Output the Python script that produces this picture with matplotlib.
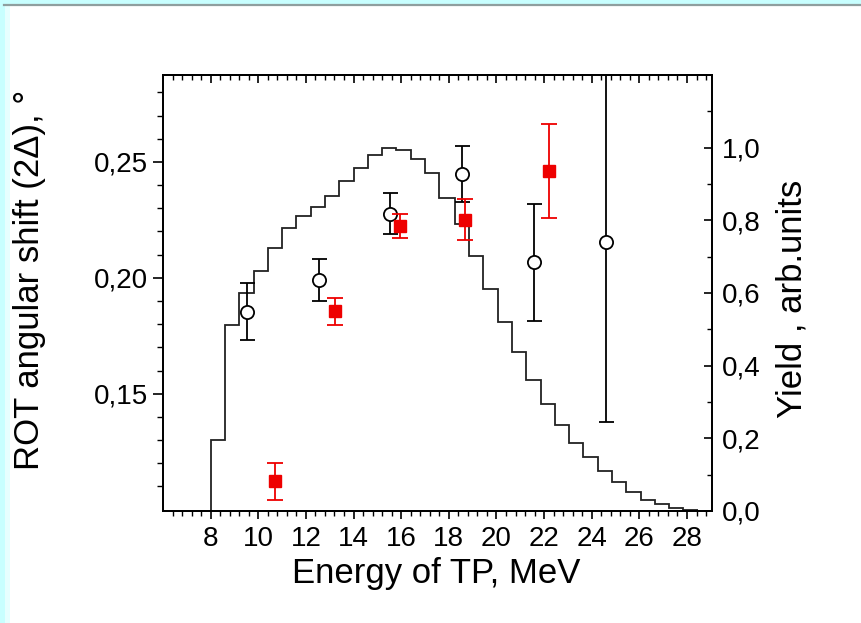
import matplotlib
matplotlib.use('Agg')
import matplotlib.pyplot as plt
from matplotlib.patches import Rectangle
from matplotlib.lines import Line2D
import numpy as np

plt.rcParams['font.family'] = ['Liberation Sans', 'DejaVu Sans']

# ---- data ----
# open circles (left axis)
circ_x = [9.52, 12.53, 15.52, 18.54, 21.58, 24.60]
circ_y = [0.1854, 0.1990, 0.2276, 0.2448, 0.2067, 0.2156]
circ_err = [0.0122, 0.0090, 0.0088, 0.0122, 0.0252, 0.0778]

# red squares (left axis)
sq_x = [10.71, 13.23, 15.97, 18.68, 22.19]
sq_y = [0.1123, 0.1855, 0.2224, 0.2250, 0.2460]
sq_err = [0.0080, 0.0060, 0.0052, 0.0088, 0.0203]

# yield histogram (right axis)
hist_edges = [7.4, 8.0, 8.6, 9.2, 9.8, 10.4, 11.0, 11.6, 12.2, 12.8, 13.4,
              14.0, 14.6, 15.2, 15.8, 16.4, 17.0, 17.6, 18.25, 18.85, 19.45,
              20.05, 20.65, 21.25, 21.85, 22.45, 23.05, 23.65, 24.25, 24.85,
              25.45, 26.05, 26.65, 27.25, 27.85, 28.45]
hist_vals = [0.0, 0.196, 0.513, 0.600, 0.661, 0.725, 0.778, 0.812, 0.837,
             0.867, 0.908, 0.945, 0.980, 1.000, 0.993, 0.968, 0.929, 0.862,
             0.790, 0.702, 0.612, 0.519, 0.438, 0.361, 0.295, 0.238, 0.187,
             0.148, 0.111, 0.079, 0.052, 0.029, 0.018, 0.009, 0.003]

x_major = [8, 10, 12, 14, 16, 18, 20, 22, 24, 26, 28]
x_labels = ['8', '10', '12', '14', '16', '18', '20', '22', '24', '26', '28']
yl_major = [0.15, 0.20, 0.25]
yl_labels = ['0,15', '0,20', '0,25']
yr_major = [0.0, 0.2, 0.4, 0.6, 0.8, 1.0]
yr_labels = ['0,0', '0,2', '0,4', '0,6', '0,8', '1,0']

W, H = 862, 623
fig = plt.figure(figsize=(W / 100, H / 100), dpi=100, facecolor='white')

# decorative frame (cyan strips + gray line)
fig.add_artist(Rectangle((0, 1 - 4 / H), 1, 4 / H, transform=fig.transFigure,
                         color='#c8ffff', lw=0, zorder=0))
fig.add_artist(Rectangle((0, 0), 5 / W, 1, transform=fig.transFigure,
                         color='#c8ffff', lw=0, zorder=0))
fig.add_artist(Rectangle((5 / W, 0), 5 / W, 1 - 6 / H, transform=fig.transFigure,
                         color='#e6ffff', lw=0, zorder=0))
fig.add_artist(Line2D([4 / W, 1], [1 - 5 / H, 1 - 5 / H], transform=fig.transFigure,
                      color='#8f9f9f', lw=1.6, zorder=1))

L, R, T, B = 163, 712, 75, 511
ax = fig.add_axes([L / W, 1 - B / H, (R - L) / W, (B - T) / H])
ax2 = ax.twinx()

# histogram on right axis
ax2.stairs(hist_vals, hist_edges, color='#222222', lw=1.3, baseline=None)
ax2.set_ylim(0, 1.2)

# points on left axis
ax.errorbar(circ_x, circ_y, yerr=circ_err, fmt='o', ms=9.5, mfc='white',
            mec='black', mew=1.3, ecolor='black', elinewidth=1.3,
            capsize=5.4, capthick=1.3, zorder=3)
ax.errorbar(sq_x, sq_y, yerr=sq_err, fmt='s', ms=8.5, mfc='#ee0000',
            mec='#ee0000', ecolor='#ee0000', elinewidth=1.3,
            capsize=5.6, capthick=1.3, zorder=4)

ax.set_zorder(ax2.get_zorder() + 1)
ax.patch.set_visible(False)

ax.set_xlim(6.0, 29.05)
ax.set_ylim(0.0994, 0.2875)

tick_fs = 20
ax.set_xticks(x_major, x_labels)
ax.set_xticks([v for v in np.arange(6.4, 29.0, 0.4) if abs(v / 2 - round(v / 2)) > 1e-6],
              minor=True)
ax.set_yticks(yl_major, yl_labels)
ax.set_yticks([v for v in np.arange(0.11, 0.285, 0.01)
               if min(abs(v - m) for m in yl_major) > 1e-6], minor=True)

ax.tick_params(axis='x', which='major', direction='out', length=6, width=1.2,
               labelsize=tick_fs, pad=5, top=False)
ax.tick_params(axis='x', which='minor', direction='out', length=3.5, width=1.0, top=False)
ax.tick_params(axis='y', which='major', direction='out', length=7, width=1.2,
               labelsize=tick_fs, pad=3.5, right=False)
ax.tick_params(axis='y', which='minor', direction='out', length=4.3, width=1.0, right=False)

ax2.set_yticks(yr_major, yr_labels)
ax2.set_yticks([0.1, 0.3, 0.5, 0.7, 0.9, 1.1], minor=True)
ax2.tick_params(axis='y', which='major', direction='in', length=6, width=1.2,
                labelsize=tick_fs, pad=7)
ax2.tick_params(axis='y', which='minor', direction='in', length=3.5, width=1.0)

# top axis ticks pointing inward
sec = ax.secondary_xaxis('top')
sec.set_xticks(x_major)
sec.set_xticks([v for v in np.arange(6.4, 29.0, 0.4) if abs(v / 2 - round(v / 2)) > 1e-6],
               minor=True)
sec.tick_params(axis='x', which='major', direction='in', length=6, width=1.2,
                labeltop=False)
sec.tick_params(axis='x', which='minor', direction='in', length=3.5, width=1.0)

for a in (ax, ax2):
    for s in a.spines.values():
        s.set_linewidth(1.3)
sec.spines['top'].set_linewidth(1.3)

fig.text(30 / W, 1 - 280 / H, 'ROT angular shift (2Δ), °', rotation=90,
         ha='center', va='center', fontsize=25)
fig.text(792 / W, 1 - 299 / H, 'Yield , arb.units', rotation=90,
         ha='center', va='center', fontsize=25)
fig.text(436 / W, 1 - 583 / H, 'Energy of TP, MeV', ha='center', va='baseline',
         fontsize=25)

fig.savefig('out.png', dpi=100, facecolor='white')
